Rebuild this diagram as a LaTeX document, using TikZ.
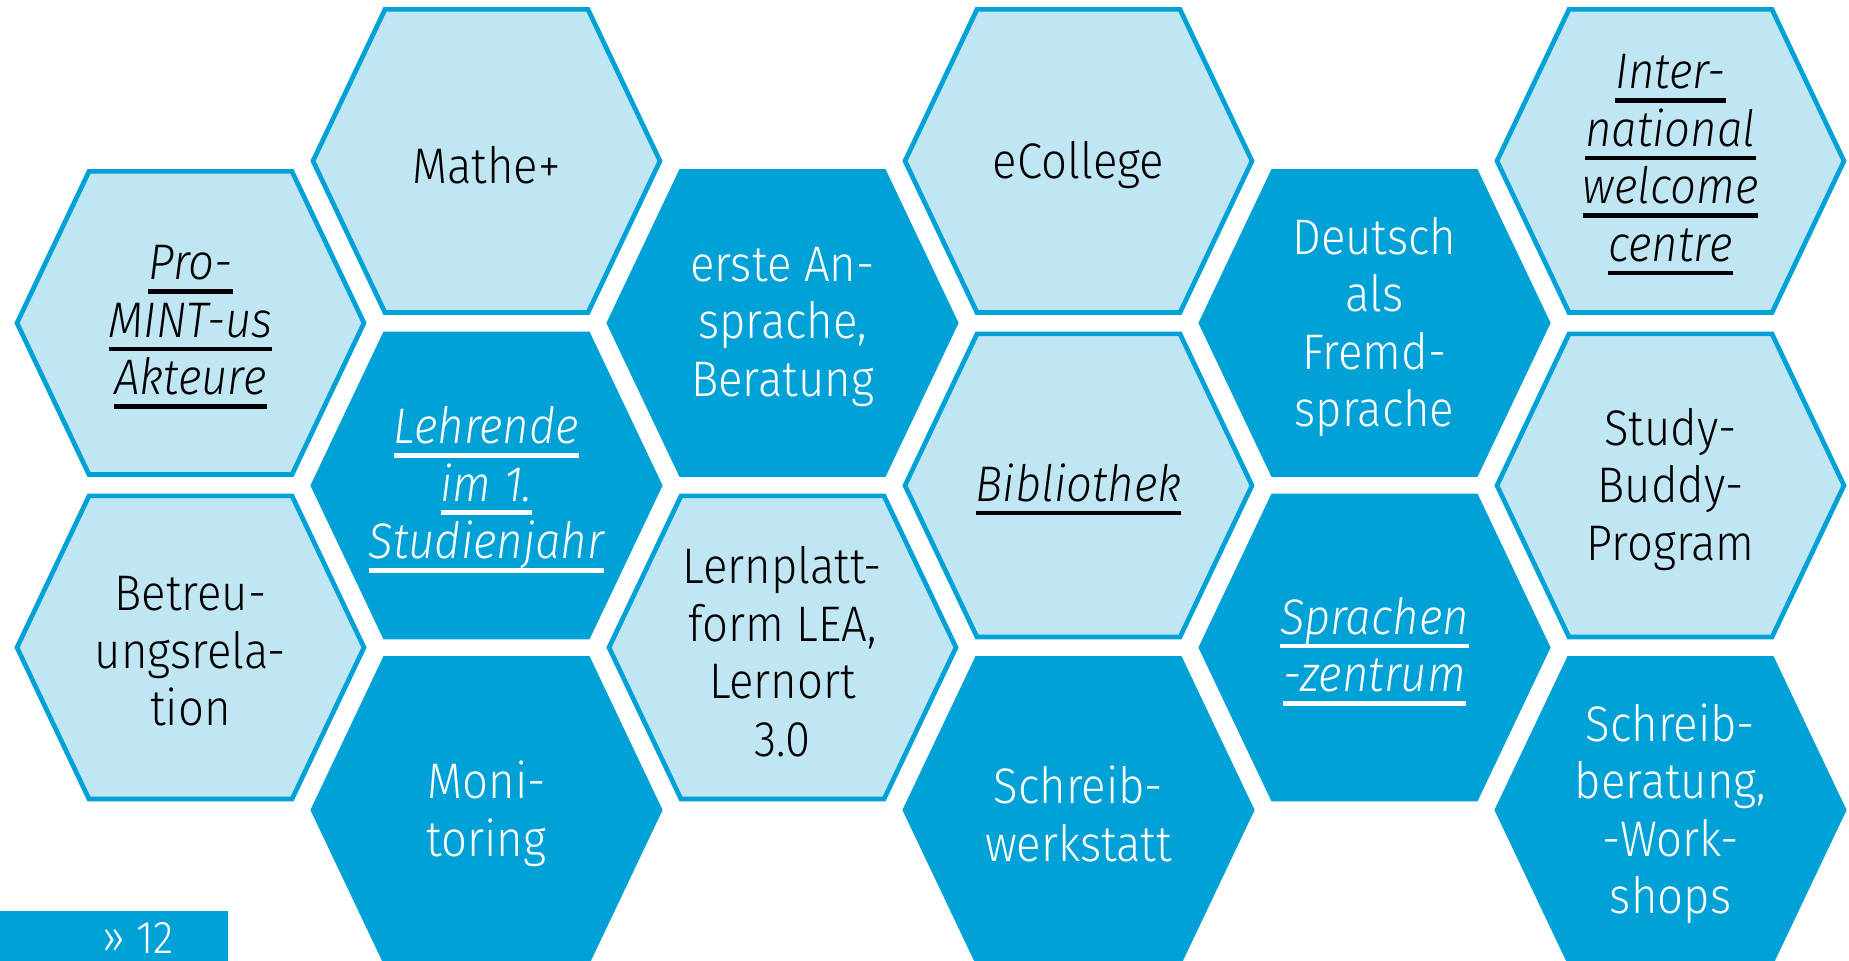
\documentclass[tikz,border=0pt]{standalone}
\usepackage{fontspec}
\setmainfont{Fira Sans Light}[FakeStretch=0.91, ItalicFont={Fira Sans Light Italic}]
\usepackage{tikz}
\usetikzlibrary{positioning}

\definecolor{fhblau}{RGB}{0,161,214}
\definecolor{fhhell}{RGB}{192,230,244}

\newcommand{\wabefont}{\fontsize{25pt}{28.75pt}\selectfont}
% italic word with a heavy rule under it
\newcommand{\ustrich}[1]{{\leavevmode\itshape\setbox0\hbox{#1}\rlap{\rule[-7pt]{\wd0}{2.3pt}}\box0}}
% one honeycomb cell: name, centre, style, text
\newcommand{\hexcell}[4]{%
  \draw[#3] (#2) ++(-173.5,0) -- ++(72,-151.6) -- ++(203,0) -- ++(72,151.6)
    -- ++(-72,151.6) -- ++(-203,0) -- cycle;
  \node[#3 text] (#1) at (#2) {#4};}

\tikzset{
  hell/.style={draw=fhblau, line width=2.35pt, fill=fhhell},
  dunkel/.style={draw=fhblau, line width=2.35pt, fill=fhblau},
  hell text/.style={text=black, align=center, font=\wabefont, yshift=-2pt},
  dunkel text/.style={text=white, align=center, font=\wabefont, yshift=-2pt},
}

\begin{document}
\begin{tikzpicture}[x=0.5pt,y=-0.5pt]
  \clip (0,0) rectangle (1849,961);

  % first column
  \hexcell{promint}{190.5,323}{hell}{\ustrich{Pro-}\\\ustrich{MINT-us}\\\ustrich{Akteure}}
  \hexcell{betreuung}{190.5,647.5}{hell}{Betreu-\\ungsrela-\\tion}

  % second column
  \hexcell{mathe}{486.5,161}{hell}{Mathe+}
  \hexcell{lehrende}{486.5,485.5}{dunkel}{\ustrich{Lehrende}\\\ustrich{im 1.}\\\ustrich{Studienjahr}}
  \hexcell{monitoring}{486.5,810}{dunkel}{Moni-\\toring}

  % third column
  \hexcell{ansprache}{782.5,323}{dunkel}{erste An-\\sprache,\\Beratung}
  \hexcell{lernplattform}{782.5,647.5}{hell}{Lernplatt-\\form LEA,\\Lernort\\3.0}

  % fourth column
  \hexcell{ecollege}{1078.5,161}{hell}{eCollege}
  \hexcell{bibliothek}{1078.5,485.5}{hell}{\ustrich{Bibliothek}}
  \hexcell{werkstatt}{1078.5,810}{dunkel}{Schreib-\\werkstatt}

  % fifth column
  \hexcell{daf}{1374.5,323}{dunkel}{Deutsch\\als\\Fremd-\\sprache}
  \hexcell{sprachzentrum}{1374.5,647.5}{dunkel}{\ustrich{Sprachen}\\\ustrich{-zentrum}}

  % sixth column
  \hexcell{welcome}{1670.5,161}{hell}{\ustrich{Inter-}\\\ustrich{national}\\\ustrich{welcome}\\\ustrich{centre}}
  \hexcell{buddy}{1670.5,485.5}{hell}{Study-\\Buddy-\\Program}
  \hexcell{schreibberatung}{1670.5,810}{dunkel}{Schreib-\\beratung,\\-Work-\\shops}

  % page tab
  \fill[fhblau] (0,911) rectangle (228,961);
  \node[anchor=base, inner sep=0pt, text=white, font=\fontsize{23pt}{26pt}\selectfont] (seite) at (138,954) {» 12};
\end{tikzpicture}
\end{document}
